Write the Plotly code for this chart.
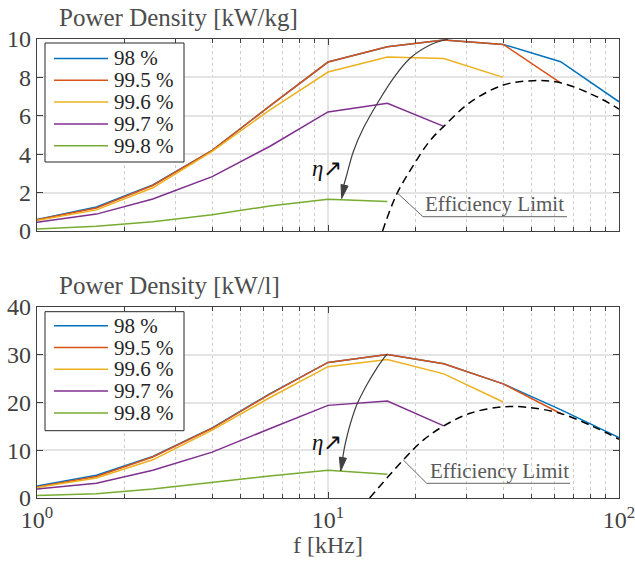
import plotly.graph_objects as go

# ---------------- data ----------------
freq = [1, 1.6, 2.5, 4, 6.3, 10, 16, 25, 40, 63, 100]  # kHz
names = ["98 %", "99.5 %", "99.6 %", "99.7 %", "99.8 %"]
colors = ["#0072BD", "#D95319", "#EDB120", "#7E2F8E", "#77AC30"]

pd_kg_98 = [0.6, 1.25, 2.4, 4.2, 6.5, 8.8, 9.6, 9.95, 9.72, 8.82, 6.73]
pd_kg_995 = [0.58, 1.2, 2.37, 4.2, 6.5, 8.8, 9.6, 9.95, 9.72, 7.72]
pd_kg_996 = [0.55, 1.1, 2.25, 4.15, 6.3, 8.28, 9.06, 8.98, 8.0]
pd_kg_997 = [0.45, 0.88, 1.67, 2.83, 4.4, 6.2, 6.65, 5.45]
pd_kg_998 = [0.1, 0.25, 0.48, 0.85, 1.3, 1.65, 1.53]

pd_l_98 = [2.5, 4.75, 8.7, 14.7, 21.8, 28.4, 30.06, 28.1, 23.9, 18.5, 12.65]
pd_l_995 = [2.3, 4.5, 8.6, 14.6, 21.7, 28.4, 30.06, 28.1, 23.9, 17.7]
pd_l_996 = [2.2, 4.2, 8.0, 14.2, 21.0, 27.5, 29.0, 26.0, 20.1]
pd_l_997 = [1.9, 3.1, 5.8, 9.6, 14.5, 19.4, 20.3, 15.1]
pd_l_998 = [0.5, 0.9, 1.9, 3.3, 4.6, 5.8, 5.0]

limit_kg_f = [15.4, 17.2, 19.8, 22.4, 25, 30.8, 40, 50.8, 63, 83.8, 100]
limit_kg_v = [0, 1.9, 3.5, 4.7, 5.45, 6.7, 7.6, 7.83, 7.72, 7.0, 6.35]
limit_l_f = [13.9, 18.15, 21.3, 25, 30.8, 40, 48.2, 62.7, 81.6, 100]
limit_l_v = [0, 8.0, 12.17, 15.1, 17.75, 19.1, 19.0, 17.75, 14.95, 12.3]

x_tickvals = [1, 10, 100]
x_ticktext = ["10<sup>0</sup>", "10<sup>1</sup>", "10<sup>2</sup>"]
x_minor = [2, 3, 4, 5, 6, 7, 8, 9, 20, 30, 40, 50, 60, 70, 80, 90]

# ---------------- layout geometry ----------------
W, H = 635, 561
ML, MR, MT, MB = 37, 16, 39, 63
PW, PH = W - ML - MR, H - MT - MB
FONT = "Liberation Serif"
AX = "#404040"


def px(x):
    return (x - ML) / PW


def py(y):
    return (H - MB - y) / PH


top_dom = [py(231), 1.0]
bot_dom = [0.0, py(307)]

fig = go.Figure()

kg_series = [pd_kg_98, pd_kg_995, pd_kg_996, pd_kg_997, pd_kg_998]
l_series = [pd_l_98, pd_l_995, pd_l_996, pd_l_997, pd_l_998]

for name, col, vals in zip(names, colors, kg_series):
    fig.add_trace(go.Scatter(x=freq[:len(vals)], y=vals, mode="lines", name=name,
                             line=dict(color=col, width=1.5), xaxis="x", yaxis="y",
                             showlegend=False))
fig.add_trace(go.Scatter(x=limit_kg_f, y=limit_kg_v, mode="lines", name="Efficiency Limit",
                         line=dict(color="black", width=1.5, dash="8px,5px", shape="spline"),
                         xaxis="x", yaxis="y", showlegend=False))

for name, col, vals in zip(names, colors, l_series):
    fig.add_trace(go.Scatter(x=freq[:len(vals)], y=vals, mode="lines", name=name,
                             line=dict(color=col, width=1.5), xaxis="x2", yaxis="y2",
                             showlegend=False))
fig.add_trace(go.Scatter(x=limit_l_f, y=limit_l_v, mode="lines", name="Efficiency Limit",
                         line=dict(color="black", width=1.5, dash="8px,5px", shape="spline"),
                         xaxis="x2", yaxis="y2", showlegend=False))

common_x = dict(type="log", range=[0, 2], showline=True, linecolor=AX, linewidth=1.2,
                mirror="ticks", ticks="inside", ticklen=6, tickcolor=AX, tickwidth=1,
                tickvals=x_tickvals, ticktext=x_ticktext, ticklabeloverflow="allow",
                showgrid=True, gridcolor="#e4e4e4", gridwidth=1.5, zeroline=False,
                minor=dict(tickvals=x_minor, ticks="inside", ticklen=4, tickcolor=AX,
                           showgrid=True, griddash="dot", gridcolor="#cccccc", gridwidth=1),
                tickfont=dict(family=FONT, size=24, color=AX), automargin=False)
common_y = dict(showline=True, linecolor=AX, linewidth=1.2, mirror="ticks", ticks="inside",
                ticklen=6, tickcolor=AX, showgrid=True, gridcolor="#e4e4e4", gridwidth=1.5,
                zeroline=False, tickfont=dict(family=FONT, size=24, color=AX),
                automargin=False)

fig.update_layout(
    width=W, height=H, margin=dict(l=ML, r=MR, t=MT, b=MB),
    paper_bgcolor="white", plot_bgcolor="white",
    font=dict(family=FONT),
    xaxis=dict(common_x, domain=[0, 1], anchor="y", showticklabels=False),
    yaxis=dict(common_y, domain=top_dom, anchor="x", range=[0, 10], dtick=2),
    xaxis2=dict(common_x, domain=[0, 1], anchor="y2"),
    yaxis2=dict(common_y, domain=bot_dom, anchor="x2", range=[0, 40], dtick=10),
    showlegend=False,
)

shapes = []
annotations = []

# titles
for text, yc in [("Power Density [kW/kg]", 17), ("Power Density [kW/l]", 285)]:
    annotations.append(dict(text=text, xref="paper", yref="paper", x=px(57), y=py(yc),
                            xanchor="left", yanchor="middle", showarrow=False,
                            font=dict(family=FONT, size=25, color="#4d4d4d")))
annotations.append(dict(text="f [kHz]", xref="paper", yref="paper", x=0.5, y=py(545),
                        xanchor="center", yanchor="middle", showarrow=False,
                        font=dict(family=FONT, size=24, color="#4d4d4d")))

# manual legends
for (box_top, box_bot, row0) in [(43, 162, 58.5), (311.7, 430.7, 325.7)]:
    shapes.append(dict(type="rect", xref="paper", yref="paper", x0=px(45), x1=px(184),
                       y0=py(box_bot), y1=py(box_top), line=dict(color="#262626", width=1),
                       fillcolor="white", layer="above"))
    for i, (name, col) in enumerate(zip(names, colors)):
        yy = row0 + i * 21.8
        shapes.append(dict(type="line", xref="paper", yref="paper", x0=px(54), x1=px(108),
                           y0=py(yy), y1=py(yy), line=dict(color=col, width=1.5),
                           layer="above"))
        annotations.append(dict(text=name, xref="paper", yref="paper", x=px(112), y=py(yy),
                                xanchor="left", yanchor="middle", showarrow=False,
                                font=dict(family=FONT, size=21, color="#262626")))


def smooth_path(pts):
    d = "M{:.5f},{:.5f}".format(px(pts[0][0]), py(pts[0][1]))
    n = len(pts)
    for i in range(n - 1):
        p0 = pts[i - 1] if i > 0 else pts[i]
        p1, p2 = pts[i], pts[i + 1]
        p3 = pts[i + 2] if i + 2 < n else pts[i + 1]
        c1 = (p1[0] + (p2[0] - p0[0]) / 6, p1[1] + (p2[1] - p0[1]) / 6)
        c2 = (p2[0] - (p3[0] - p1[0]) / 6, p2[1] - (p3[1] - p1[1]) / 6)
        d += " C{:.5f},{:.5f} {:.5f},{:.5f} {:.5f},{:.5f}".format(
            px(c1[0]), py(c1[1]), px(c2[0]), py(c2[1]), px(p2[0]), py(p2[1]))
    return d


def arrow_head(tail, tip, length=13.5, half=3.6):
    dx, dy = tip[0] - tail[0], tip[1] - tail[1]
    L = (dx * dx + dy * dy) ** 0.5
    ux, uy = dx / L, dy / L
    bx, by = tip[0] - ux * length, tip[1] - uy * length
    nx, ny = -uy, ux
    a = (bx + nx * half, by + ny * half)
    b = (bx - nx * half, by - ny * half)
    return "M{:.5f},{:.5f} L{:.5f},{:.5f} L{:.5f},{:.5f} Z".format(
        px(tip[0]), py(tip[1]), px(a[0]), py(a[1]), px(b[0]), py(b[1]))


ARC = "#404040"
arrows = [
    ([(448, 39), (430, 45), (410, 58.3), (393.3, 78.3), (378.3, 101.7), (363.3, 128.3),
      (353.3, 151.7), (346.7, 175), (343.6, 186)], (341.7, 198.5)),
    ([(386.7, 354.3), (376.7, 368.3), (366.7, 385), (356.7, 405), (350, 425), (345, 445),
      (342.7, 458)], (340.7, 471)),
]
for pts, tip in arrows:
    shapes.append(dict(type="path", xref="paper", yref="paper", path=smooth_path(pts),
                       line=dict(color=ARC, width=1.2), layer="above"))
    shapes.append(dict(type="path", xref="paper", yref="paper", path=arrow_head(pts[-2], tip),
                       line=dict(color=ARC, width=1), fillcolor=ARC, layer="above"))

# eta labels
for yc in [168, 442]:
    annotations.append(dict(text="<i>η</i>↗", xref="paper", yref="paper", x=px(327), y=py(yc),
                            xanchor="center", yanchor="middle", showarrow=False,
                            font=dict(family=FONT, size=23, color="#111111")))

# Efficiency limit labels with leader lines
for (lx0, ly0, ux0, uy, ux1, tx, ty) in [(397.7, 193.3, 423, 216.7, 567, 423, 204),
                                           (403.3, 460, 426.7, 483.3, 570, 428, 471)]:
    shapes.append(dict(type="path", xref="paper", yref="paper",
                       path="M{:.5f},{:.5f} L{:.5f},{:.5f} L{:.5f},{:.5f}".format(
                           px(lx0), py(ly0), px(ux0), py(uy), px(ux1), py(uy)),
                       line=dict(color="#666666", width=1), layer="above"))
    annotations.append(dict(text="Efficiency Limit", xref="paper", yref="paper", x=px(tx),
                            y=py(ty), xanchor="left", yanchor="middle", showarrow=False,
                            font=dict(family=FONT, size=21, color="#595959")))

fig.update_layout(shapes=shapes, annotations=annotations)
fig.write_html("out.html")
